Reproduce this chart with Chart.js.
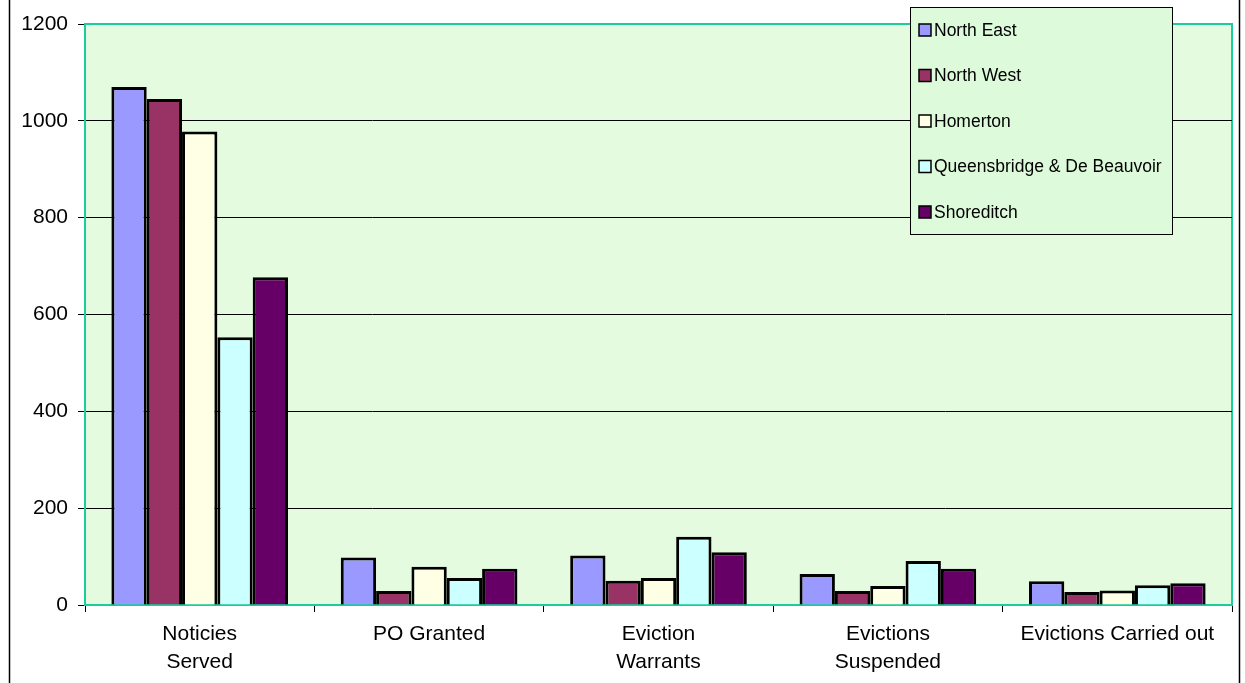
<!DOCTYPE html>
<html>
<head>
<meta charset="utf-8">
<script src="https://cdn.jsdelivr.net/npm/chart.js@4/dist/chart.umd.min.js"></script>
<style>
  html, body { margin: 0; padding: 0; background: #FFFFFF; }
  #wrap { width: 1245px; height: 683px; position: relative; }
</style>
</head>
<body>
<div id="wrap"><canvas id="recoveryChart"></canvas></div>
<script>
// Data
const categories = [['Noticies', 'Served'], 'PO Granted', ['Eviction', 'Warrants'], ['Evictions', 'Suspended'], 'Evictions Carried out'];
const seriesNames = ['North East', 'North West', 'Homerton', 'Queensbridge & De Beauvoir', 'Shoreditch'];
const northEast = [1070, 98, 102, 64, 49];
const northWest = [1045, 29, 50, 29, 27];
const homerton = [978, 79, 56, 39, 30];
const queensbridge = [553, 56, 141, 91, 41];
const shoreditch = [677, 75, 109, 75, 45];
const yTicks = [0, 200, 400, 600, 800, 1000, 1200];

const seriesColors = ['#9999FF', '#993366', '#FFFFE6', '#CCFFFF', '#660066'];
const plotBg = '#E4FBDF';
const teal = '#1ACC9E';

Chart.defaults.font.family = "'Liberation Sans', Arial, sans-serif";
Chart.defaults.color = '#000000';

// Plot area fill, teal frame and the outer chart border
const frame = {
    id: 'frame',
    beforeDraw(chart) {
        const { ctx, chartArea: a } = chart;
        ctx.save();
        ctx.strokeStyle = '#000000';
        ctx.lineWidth = 1.5;
        ctx.beginPath();
        ctx.moveTo(9.5, 0); ctx.lineTo(9.5, chart.height);
        ctx.moveTo(1239.5, 0); ctx.lineTo(1239.5, chart.height);
        ctx.stroke();
        ctx.fillStyle = plotBg;
        ctx.fillRect(a.left, a.top, a.right - a.left, a.bottom - a.top);
        ctx.strokeStyle = teal;
        ctx.lineWidth = 2;
        ctx.beginPath();
        ctx.moveTo(a.left, a.top); ctx.lineTo(a.right, a.top); ctx.lineTo(a.right, a.bottom);
        ctx.stroke();
        ctx.restore();
    }
};

// Boxed legend placed in the top right corner, like the original
const boxLegend = {
    id: 'boxLegend',
    afterDraw(chart) {
        const ctx = chart.ctx;
        const x0 = 910, y0 = 7, w = 262, h = 227;
        ctx.save();
        ctx.fillStyle = '#DDFADA';
        ctx.fillRect(x0, y0, w, h);
        ctx.strokeStyle = '#000000';
        ctx.lineWidth = 1;
        ctx.strokeRect(x0 + 0.5, y0 + 0.5, w, h);
        ctx.font = "17.5px 'Liberation Sans', Arial, sans-serif";
        ctx.textBaseline = 'middle';
        chart.data.datasets.forEach((ds, i) => {
            const cy = 30 + i * 45.5;
            ctx.fillStyle = ds.backgroundColor;
            ctx.fillRect(919, cy - 6, 12, 12);
            ctx.strokeStyle = '#000000';
            ctx.lineWidth = 1.5;
            ctx.strokeRect(919, cy - 6, 12, 12);
            ctx.fillStyle = '#000000';
            ctx.fillText(ds.label, 934, cy + 1);
        });
        ctx.restore();
    }
};

const seriesValues = [northEast, northWest, homerton, queensbridge, shoreditch];

new Chart(document.getElementById('recoveryChart'), {
    type: 'bar',
    data: {
        labels: categories,
        datasets: seriesNames.map((name, i) => ({
            label: name,
            data: seriesValues[i],
            backgroundColor: seriesColors[i],
            borderColor: '#000000',
            borderWidth: 3,
            categoryPercentage: 0.77,
            barPercentage: 1.0
        }))
    },
    options: {
        responsive: true,
        maintainAspectRatio: false,
        animation: false,
        layout: { padding: { left: 10, right: 13, top: 24, bottom: 0 } },
        scales: {
            x: {
                grid: {
                    offset: true,
                    drawOnChartArea: false,
                    tickLength: 7,
                    tickColor: '#000000'
                },
                border: { color: teal, width: 2 },
                ticks: {
                    font: { size: 21, lineHeight: 1.35 },
                    padding: 8,
                    maxRotation: 0,
                    autoSkip: false
                },
                afterFit(scale) { scale.height = 78; }
            },
            y: {
                min: 0,
                max: 1200,
                afterBuildTicks(scale) { scale.ticks = yTicks.map(v => ({ value: v })); },
                grid: {
                    color: (c) => (c.tick && (c.tick.value === 0 || c.tick.value === 1200)) ? 'rgba(0,0,0,0)' : '#000000',
                    lineWidth: 1,
                    tickLength: 7,
                    tickColor: '#000000'
                },
                border: { color: teal, width: 2 },
                ticks: {
                    font: { size: 21 },
                    padding: 10,
                    callback: (v) => String(v)
                },
                afterFit(scale) { scale.width = 75; }
            }
        },
        plugins: {
            legend: { display: false },
            tooltip: { enabled: false }
        }
    },
    plugins: [frame, boxLegend]
});
</script>
</body>
</html>
